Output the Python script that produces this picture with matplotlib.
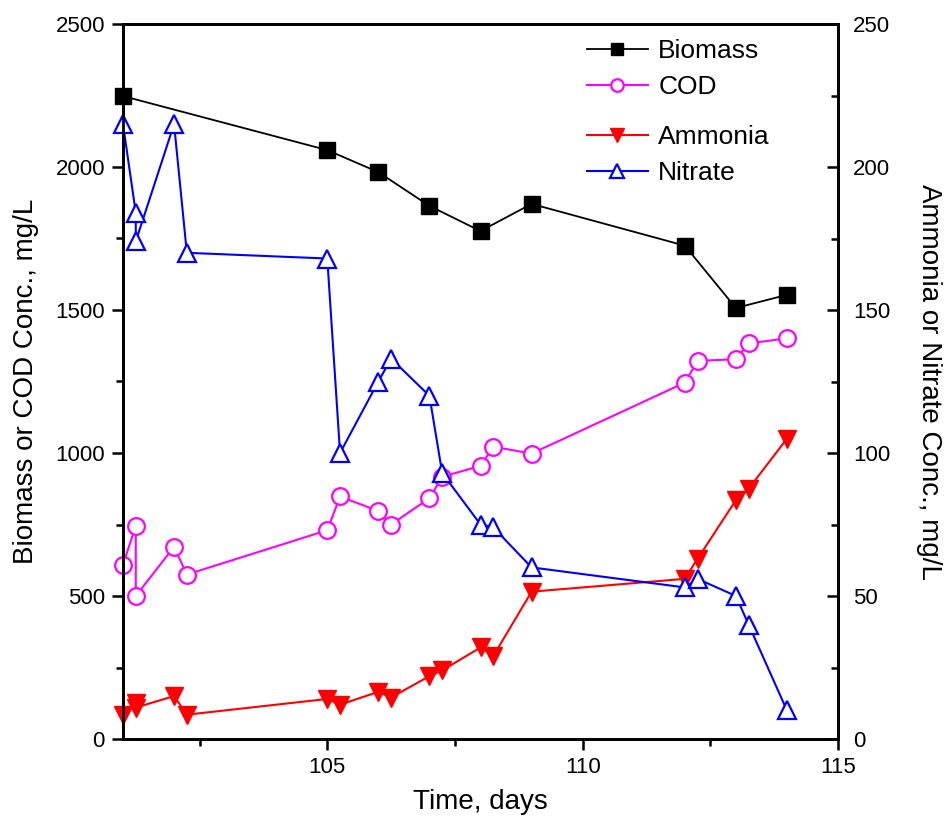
import numpy as np
import matplotlib
matplotlib.use('Agg')
import matplotlib.pyplot as plt
from matplotlib.ticker import MultipleLocator

plt.rcParams['font.family'] = ['Liberation Sans', 'DejaVu Sans']

# time, days
t_bio = [101, 105, 106, 107, 108, 109, 112, 113, 114]
biomass = [2248, 2059, 1982, 1864, 1776, 1871, 1725, 1507, 1553]

t_all = [101, 101.25, 101.25, 102, 102.25, 105, 105.25, 106, 106.25, 107, 107.25,
         108, 108.25, 109, 112, 112.25, 113, 113.25, 114]
cod = [610, 745, 500, 672, 575, 730, 848, 797, 750, 842, 917,
       955, 1022, 998, 1246, 1322, 1328, 1383, 1401]
ammonia = [8.5, 12.5, 11, 15, 8.5, 14, 12, 16.5, 14.5, 22, 24,
           32, 29, 51.5, 56, 63, 83.5, 87.5, 105]
nitrate = [215, 184, 174, 215, 170, 168, 100, 125, 133, 120, 93,
           75, 74, 60, 53, 56, 50, 40, 10]

fig = plt.figure(figsize=(9.44, 8.19), dpi=100)
ax = fig.add_axes([123/944, 1 - 739/819, (838 - 123)/944, (739 - 24)/819])
ax2 = ax.twinx()

l1, = ax.plot(t_bio, biomass, color='black', lw=1.3, marker='s', ms=11,
              mfc='black', mec='black', clip_on=False, label='Biomass')
l2, = ax.plot(t_all, cod, color='#FF00FF', lw=1.5, marker='o', ms=12,
              mfc='white', mec='#FF00FF', mew=1.6, clip_on=False, label='COD')
l3, = ax2.plot(t_all, ammonia, color='#FF0000', lw=1.5, marker='v', ms=13.5,
               mfc='#FF0000', mec='#FF0000', clip_on=False, label='Ammonia')
l4, = ax2.plot(t_all, nitrate, color='#0000FF', lw=1.5, marker='^', ms=13.5,
               mfc='white', mec='#0000FF', mew=1.6, clip_on=False, label='Nitrate')

ax.set_xlim(101, 115)
ax.set_ylim(0, 2500)
ax2.set_ylim(0, 250)

ax.xaxis.set_major_locator(MultipleLocator(5))
ax.xaxis.set_minor_locator(MultipleLocator(2.5))
ax.yaxis.set_major_locator(MultipleLocator(500))
ax.yaxis.set_minor_locator(MultipleLocator(250))
ax2.yaxis.set_major_locator(MultipleLocator(50))
ax2.yaxis.set_minor_locator(MultipleLocator(25))

for a in (ax, ax2):
    for s in a.spines.values():
        s.set_linewidth(2)
ax.tick_params(axis='both', which='major', direction='out', length=8, width=1.8,
               labelsize=16, pad=5)
ax.tick_params(axis='both', which='minor', direction='out', length=5, width=1.8)
ax.tick_params(axis='x', which='both', top=False)
ax2.tick_params(axis='y', which='major', direction='in', length=8, width=1.8,
                labelsize=16, pad=11)
ax2.tick_params(axis='y', which='minor', direction='in', length=5, width=1.8)

ax.set_xlabel('Time, days', fontsize=20, labelpad=8)
ax.set_ylabel('Biomass or COD Conc., mg/L', fontsize=20, labelpad=12)
ax2.set_ylabel('Ammonia or Nitrate Conc., mg/L', fontsize=20, rotation=270,
               va='bottom', labelpad=18)

leg_kw = dict(frameon=False, fontsize=19, handlelength=2.3, handletextpad=0.4,
              labelspacing=0.45, borderpad=0, borderaxespad=0, markerscale=0.75,
              loc='center left')
leg1 = ax2.legend([l1, l2], ['Biomass', 'COD'], bbox_to_anchor=(587/944, 1 - 69/819),
                  bbox_transform=fig.transFigure, **leg_kw)
ax2.add_artist(leg1)
ax2.legend([l3, l4], ['Ammonia', 'Nitrate'], bbox_to_anchor=(587/944, 1 - 155/819),
           bbox_transform=fig.transFigure, **leg_kw)

fig.savefig('out.png', dpi=100)
